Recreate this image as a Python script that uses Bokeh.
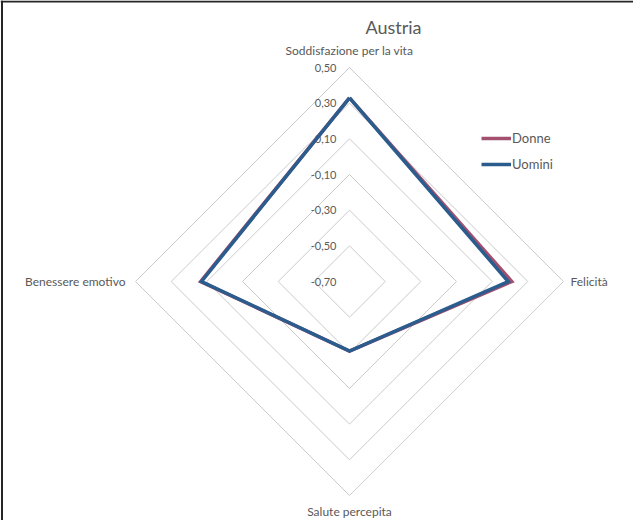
import numpy as np
from bokeh.plotting import figure
from bokeh.models import Range1d, Legend, LegendItem, Span, Label
from bokeh.core.properties import value
from bokeh.embed import file_html
from bokeh.resources import INLINE

# ---- data ----
title_text = "Austria"
categories = ["Soddisfazione per la vita", "Felicità", "Salute percepita", "Benessere emotivo"]
donne = [0.33, 0.21, -0.31, 0.135]
uomini = [0.33, 0.19, -0.31, 0.13]
series_names = ["Donne", "Uomini"]
tick_values = [-0.70, -0.50, -0.30, -0.10, 0.10, 0.30, 0.50]
tick_labels = ["-0,70", "-0,50", "-0,30", "-0,10", "0,10", "0,30", "0,50"]

# ---- geometry / style ----
R = 214.0
vmin, vmax = tick_values[0], tick_values[-1]
n = len(categories)
angles = np.pi / 2 - np.arange(n) * 2 * np.pi / n
TXT = "#595959"
FONT = "Lato"
col_donne = "#A3506F"
col_uomini = "#2B5C8E"


def radius(v):
    return (np.asarray(v, dtype=float) - vmin) / (vmax - vmin) * R


def polar(vals):
    r = radius(vals)
    xs = list(r * np.cos(angles)) + [r[0] * np.cos(angles[0])]
    ys = list(r * np.sin(angles)) + [r[0] * np.sin(angles[0])]
    return xs, ys


p = figure(width=633, height=520, x_range=Range1d(-349, 284), y_range=Range1d(-239, 281),
           min_border=0, toolbar_location=None, output_backend="svg",
           x_axis_type=None, y_axis_type=None, outline_line_color=None)
p.grid.visible = False
p.background_fill_color = "white"
p.border_fill_color = "white"

# rings
ring_xs, ring_ys = [], []
for tv in tick_values[1:]:
    xs, ys = polar([tv] * n)
    ring_xs.append(xs)
    ring_ys.append(ys)
p.multi_line(ring_xs, ring_ys, line_color="#CBCBCB", line_width=1)

# tick labels
p.text(x=[-13] * len(tick_values), y=list(radius(tick_values)), text=tick_labels,
       text_font=value(FONT), text_font_size=value("11px"), text_color=TXT,
       text_align="right", text_baseline="middle")

# category labels
offs = [17, 7, 16, 10]
for cat, a, o in zip(categories, angles, offs):
    c, s = np.cos(a), np.sin(a)
    align = "center" if abs(c) < 0.5 else ("left" if c > 0 else "right")
    p.text(x=[(R + o) * c], y=[(R + o) * s], text=[cat],
           text_font=value(FONT), text_font_size=value("12px"), text_color=TXT,
           text_align=align, text_baseline="middle")

# series
dx, dy = polar(donne)
ux, uy = polar(uomini)
r_d = p.line(dx, dy, line_color=col_donne, line_width=3.5, line_join="miter")
r_u = p.line(ux, uy, line_color=col_uomini, line_width=3.5, line_join="miter")

legend = Legend(items=[LegendItem(label=series_names[0], renderers=[r_d]),
                       LegendItem(label=series_names[1], renderers=[r_u])],
                location=(481, 346), padding=0, margin=0, spacing=6,
                glyph_width=30, glyph_height=20, label_standoff=1,
                label_text_font=FONT, label_text_font_size="13px",
                label_text_color=TXT, border_line_color=None,
                background_fill_alpha=0)
p.add_layout(legend)

# title
p.add_layout(Label(x=393, y=494, x_units="screen", y_units="screen", text=title_text,
                   text_align="center", text_baseline="middle", text_font=FONT,
                   text_font_size="18px", text_color=TXT))

# frame borders (top and left)
p.add_layout(Span(location=280, dimension="width", line_color="#262626", line_width=2))
p.add_layout(Span(location=-347.5, dimension="height", line_color="#262626", line_width=2))

open("out.html", "w").write(file_html(p, INLINE))
